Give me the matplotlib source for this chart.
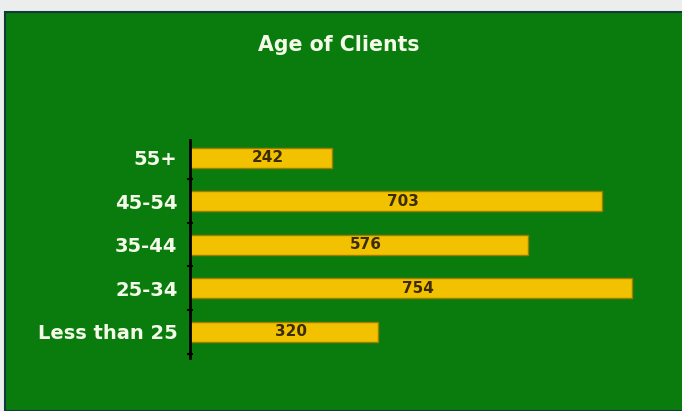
import matplotlib.pyplot as plt
from matplotlib.patches import Rectangle

categories = ['Less than 25', '25-34', '35-44', '45-54', '55+']
clients = [320, 754, 576, 703, 242]

green = '#0a7b0d'
bar_color = '#f2c200'

plt.rcParams['font.family'] = ['DejaVu Sans']

fig = plt.figure(figsize=(6.82, 4.11), dpi=100, facecolor='#eceeee')
# green panel behind the chart
fig.patches.append(Rectangle((5 / 682, 0), 1, (411 - 12) / 411, transform=fig.transFigure,
                             facecolor=green, edgecolor='#123a3a', linewidth=1.5, zorder=-5))
fig.text(339 / 682, 1 - 45 / 411, 'Age of Clients', color='#f4fbe8', fontsize=14.8,
         fontweight='bold', ha='center', va='center')

ax = fig.add_axes([190 / 682, 0.129, 469 / 682, 0.530])
ax.set_zorder(2)
ax.patch.set_visible(False)
pos = range(len(categories))
bars = ax.barh(pos, clients, height=0.46, color=bar_color, edgecolor='#a07c00', linewidth=1)
for b, v in zip(bars, clients):
    ax.text(v / 2 + 12, b.get_y() + b.get_height() / 2, str(v), ha='center', va='center',
            fontsize=11, fontweight='bold', color='#3a2c05')

ax.set_xlim(0, 800)
ax.set_ylim(-0.6, 4.4)
ax.set_yticks(list(pos))
ax.set_yticklabels(categories, color='#f4fbe8', fontsize=14, fontweight='bold')
ax.set_yticks([-0.5, 0.5, 1.5, 2.5, 3.5], minor=True)
ax.tick_params(axis='y', which='major', length=0, pad=9)
ax.tick_params(axis='y', which='minor', length=5, width=1.5, direction='inout', color='black')
ax.set_xticks([])
for s in ['top', 'right', 'bottom']:
    ax.spines[s].set_visible(False)
ax.spines['left'].set_color('black')
ax.spines['left'].set_linewidth(2)

fig.savefig('out.png', dpi=100, facecolor=fig.get_facecolor())
